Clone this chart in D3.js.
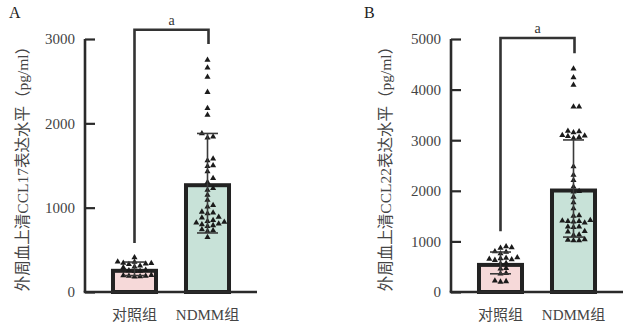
<!DOCTYPE html>
<html><head><meta charset="utf-8">
<script src="https://cdn.jsdelivr.net/npm/d3@7"></script>
<style>
body{margin:0;background:#fff;}
svg{display:block;}
text{font-family:"Liberation Serif","Noto Sans CJK SC",serif;fill:#444;}
</style></head>
<body>
<svg id="chart" width="627" height="325"></svg>
<script>
// ---- data ----
const categories = ["对照组", "NDMM组"];

const panelLabels = ["A", "B"];
const yTitles = ["外周血上清CCL17表达水平（pg/ml）", "外周血上清CCL22表达水平（pg/ml）"];
const yMaxA = 3000, yMaxB = 5000;
const ticksA = [0, 1000, 2000, 3000];
const ticksB = [0, 1000, 2000, 3000, 4000, 5000];

const meansA = [275, 1290];
const sdsA = [80, 590];
const meansB = [575, 2045];
const sdsB = [215, 960];

const controlA = [410, 360, 355, 345, 340, 335, 330, 310, 300, 290, 260, 255, 250, 245, 200, 195, 190, 190, 185, 180];
const ndmmA = [2750, 2660, 2550, 2370, 2180, 2100, 1880, 1840, 1830, 1580, 1560, 1500, 1490, 1430, 1350, 1300, 1230, 1210, 1150, 1090, 1030, 1010, 950, 940, 930, 890, 880, 850, 840, 830, 820, 810, 800, 790, 780, 740, 730, 720, 650];

const controlB = [900, 880, 870, 800, 790, 760, 680, 670, 660, 650, 640, 630, 570, 560, 470, 460, 370, 360, 220, 210, 200];
const ndmmB = [4410, 4240, 4090, 3660, 3660, 3180, 3170, 3150, 3100, 3090, 3080, 3060, 3040, 2480, 2310, 2210, 2080, 1990, 1980, 1880, 1770, 1650, 1510, 1500, 1420, 1410, 1400, 1400, 1390, 1370, 1290, 1290, 1280, 1200, 1190, 1130, 1120, 1040, 1030, 1020, 1020];

const sigLabel = "a";
const bracketA = [3110, 580, 2940];   // top, left end, right end (values)
const bracketB = [5020, 1200, 4720];

// ---- drawing ----
const svg = d3.select("#chart");
const fills = ["#f6d9d9", "#c8e2d8"];
const dark = "#222";

function swarm(values, y, cx) {
  const sorted = values.map(v => ({v, py: y(v)})).sort((a, b) => b.py - a.py);
  const placed = [];
  const d = 5.6;
  sorted.forEach(p => {
    for (let k = 0; k < 40; k++) {
      const off = (k === 0) ? 0 : (k % 2 ? 1 : -1) * Math.ceil(k / 2) * d;
      const ok = placed.every(q => !(Math.abs(q.px - (cx + off)) < d - 0.1 && Math.abs(q.py - p.py) < 4.6));
      if (ok) { p.px = cx + off; break; }
    }
    placed.push(p);
  });
  return placed;
}

function panel(cfg) {
  const g = svg.append("g");
  const x = d3.scaleBand().domain(categories).range([cfg.x0, cfg.x1]).paddingInner(0.356).paddingOuter(0.356);
  const y = d3.scaleLinear().domain([0, cfg.yMax]).range([292, 39]);

  // panel label
  g.append("text").attr("x", cfg.labelX).attr("y", 18).attr("font-size", 16).style("fill", "#222").text(cfg.label);

  // y title
  g.append("text")
    .attr("transform", `translate(${cfg.titleX},165) rotate(-90)`)
    .attr("text-anchor", "middle").attr("dominant-baseline", "central")
    .attr("font-size", 15.5).text(cfg.title);

  // bars
  categories.forEach((c, i) => {
    const top = y(cfg.means[i]);
    g.append("rect")
      .attr("x", x(c) + 2).attr("y", top + 2)
      .attr("width", x.bandwidth() - 4).attr("height", y(0) - top - 2)
      .attr("fill", fills[i]).attr("stroke", dark).attr("stroke-width", 4);
  });

  // points
  const tri = d3.symbol().type(d3.symbolTriangle).size(16);
  categories.forEach((c, i) => {
    const pts = swarm(cfg.points[i], y, x(c) + x.bandwidth() / 2);
    g.selectAll(null).data(pts).enter().append("path")
      .attr("d", tri).attr("transform", p => `translate(${p.px},${p.py})`)
      .attr("fill", "#1b1b1b");
  });

  // error bars
  categories.forEach((c, i) => {
    const cx = x(c) + x.bandwidth() / 2;
    const hi = y(cfg.means[i] + cfg.sds[i]), lo = y(Math.max(0, cfg.means[i] - cfg.sds[i]));
    const ec = "#3a3a3a";
    g.append("line").attr("x1", cx).attr("x2", cx).attr("y1", hi).attr("y2", lo).attr("stroke", ec).attr("stroke-width", 1.6);
    [hi, lo].forEach(yy => g.append("line").attr("x1", cx - 10.5).attr("x2", cx + 10.5).attr("y1", yy).attr("y2", yy).attr("stroke", ec).attr("stroke-width", 1.6));
  });

  // axes
  const yAxis = d3.axisRight(y).tickValues(cfg.ticks).tickSize(10).tickFormat(d3.format("d"));
  const ya = g.append("g").attr("transform", `translate(${cfg.x0},0)`).call(yAxis);
  ya.select(".domain").attr("stroke", "#2a2a2a").attr("stroke-width", 2.6).attr("d", `M0,${y(cfg.yMax)}V${y(0)}`);
  ya.selectAll(".tick line").attr("stroke", "#2a2a2a").attr("stroke-width", 2.2);
  ya.selectAll(".tick text").attr("x", -10).attr("text-anchor", "end").attr("font-size", 15)
    .style("font-family", '"Liberation Serif",serif').style("fill", "#444");

  g.append("line").attr("x1", cfg.x0 - 1.3).attr("x2", cfg.x1).attr("y1", y(0)).attr("y2", y(0))
    .attr("stroke", "#2a2a2a").attr("stroke-width", 2.6);

  // category labels
  categories.forEach(c => {
    g.append("text").attr("x", x(c) + x.bandwidth() / 2).attr("y", 320)
      .attr("text-anchor", "middle").attr("font-size", 15).text(c);
  });

  // significance bracket
  const xl = x(categories[0]) + x.bandwidth() / 2, xr = x(categories[1]) + x.bandwidth() / 2 + 1;
  const b = cfg.bracket;
  g.append("path").attr("d", `M${xl},${y(b[1])}V${y(b[0])}H${xr}V${y(b[2])}`)
    .attr("fill", "none").attr("stroke", "#333").attr("stroke-width", 2.6);
  g.append("text").attr("x", (xl + xr) / 2).attr("y", y(b[0]) - 5).attr("text-anchor", "middle")
    .attr("font-size", 14).style("fill", "#333").text(sigLabel);
}

panel({x0: 85, x1: 257, yMax: yMaxA, ticks: ticksA, means: meansA, sds: sdsA,
  points: [controlA, ndmmA], bracket: bracketA, label: panelLabels[0], labelX: 9, title: yTitles[0], titleX: 22});
panel({x0: 451, x1: 623, yMax: yMaxB, ticks: ticksB, means: meansB, sds: sdsB,
  points: [controlB, ndmmB], bracket: bracketB, label: panelLabels[1], labelX: 364, title: yTitles[1], titleX: 385});
</script>
</body></html>
